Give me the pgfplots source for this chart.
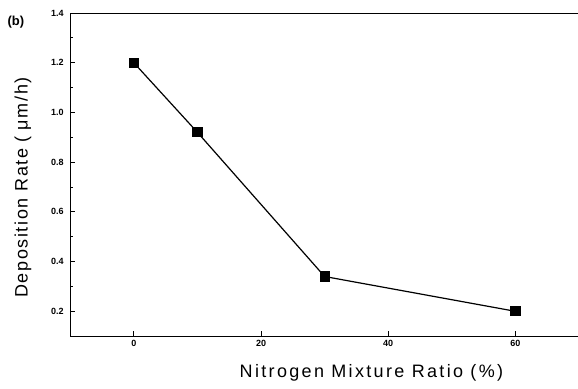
\documentclass[border=0pt]{standalone}
\usepackage{pgfplots}
\pgfplotsset{compat=1.18}
\usepackage{fontspec}
\setmainfont{Liberation Sans}
\begin{document}
\begin{tikzpicture}
\begin{axis}[
  scale only axis,
  width=507bp, height=322bp,
  xmin=-10, xmax=70, ymin=0.1, ymax=1.4,
  xtick={0,20,40,60},
  ytick={0.2,0.4,0.6,0.8,1.0,1.2,1.4},
  minor y tick num=1,
  xtick pos=bottom, ytick pos=left,
  tick align=inside,
  major tick length=5bp, minor tick length=3bp,
  axis line style={line width=1bp},
  tick style={line width=0.8bp, black},
  /pgf/number format/assume math mode=true,
  yticklabel style={/pgf/number format/fixed, /pgf/number format/fixed zerofill, /pgf/number format/precision=1, font=\fontsize{9}{10}\selectfont\bfseries, xshift=-3bp},
  xticklabel style={font=\fontsize{9}{10}\selectfont\bfseries, yshift=-1bp},
  xlabel={\addfontfeatures{LetterSpace=13}Nitrogen Mixture Ratio (\%)},
  ylabel={\addfontfeatures{LetterSpace=9}Deposition Rate (\,\,μm/h)},
  label style={font=\fontsize{18}{20}\selectfont},
  xlabel style={at={(ticklabel cs:0.592)}, yshift=-10bp},
  ylabel style={at={(ticklabel cs:0.46)}, yshift=13bp},
]
\addplot[black, line width=1.2bp, mark=square*, mark size=4.5bp, mark options={solid}] coordinates {
  (0,1.2) (10,0.92) (30,0.34) (60,0.2)
};
\end{axis}
\node[font=\fontsize{13}{14}\selectfont\bfseries, anchor=west] at (-66bp,313bp) {(b)};
\pgfresetboundingbox
\path (-70bp,-52bp) rectangle (506bp,335bp);
\end{tikzpicture}
\end{document}
